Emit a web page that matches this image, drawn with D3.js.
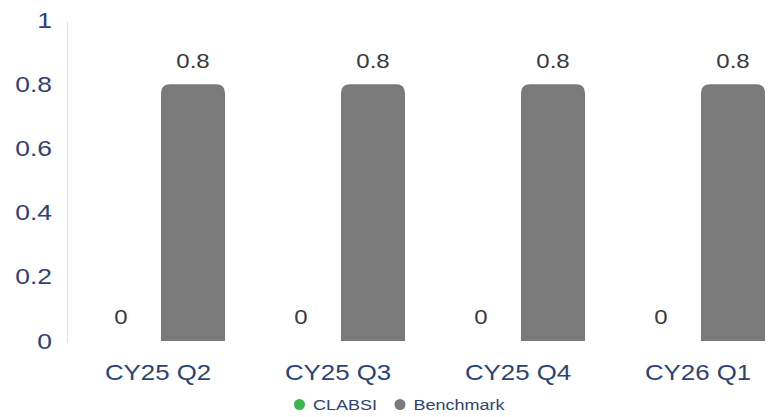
<!DOCTYPE html>
<html>
<head>
<meta charset="utf-8">
<script src="https://cdn.jsdelivr.net/npm/d3@7"></script>
<style>
  html, body { margin: 0; padding: 0; background: #fff; }
  svg { display: block; font-family: "Liberation Sans", Arial, sans-serif; }
</style>
</head>
<body>
<svg id="chart" width="768" height="417"></svg>
<script>
// Quarterly CLABSI rate vs. benchmark
const categories = ["CY25 Q2", "CY25 Q3", "CY25 Q4", "CY26 Q1"];
const seriesNames = ["CLABSI", "Benchmark"];
const clabsi = [0, 0, 0, 0];
const benchmark = [0.8, 0.8, 0.8, 0.8];
const yTicks = [0, 0.2, 0.4, 0.6, 0.8, 1];
const seriesColors = ["#3cb54a", "#7a7a7a"];

const svg = d3.select("#chart");
const axisColor = "#2d4373";
const WIDEN = 1.2; // text is drawn horizontally widened

// widen a text selection around its own x anchor
function widen(sel) {
  sel.attr("transform", function () {
    const X = +this.getAttribute("x") || 0;
    return `translate(${X},0) scale(${WIDEN},1) translate(${-X},0)`;
  });
}

const x = d3.scaleBand().domain(categories).range([68, 788]).paddingInner(0).paddingOuter(0);
const xSub = d3.scaleBand().domain(seriesNames).range([17, 161]).paddingInner(0.111).paddingOuter(0.0555);
const y = d3.scaleLinear().domain([0, 1]).range([341, 20]);

// Y axis: labels only, plus a thin vertical rule
const yAxis = d3.axisLeft(y).tickValues(yTicks).tickFormat(d3.format("~g")).tickSize(0).tickPadding(15);
const gy = svg.append("g").attr("transform", "translate(67,0)").call(yAxis);
gy.select(".domain").remove();
gy.selectAll("text")
  .attr("fill", axisColor)
  .style("font-size", "22px")
  .style("font-family", "'Liberation Sans', Arial, sans-serif")
  .call(widen);

svg.append("line")
  .attr("x1", 67.5).attr("x2", 67.5)
  .attr("y1", y(1) + 2).attr("y2", y(0) + 2)
  .attr("stroke", "#dde0e6").attr("stroke-width", 1);

// X axis labels
const xAxis = d3.axisBottom(x).tickSize(0).tickPadding(23.5);
const gx = svg.append("g").attr("transform", `translate(0,${y(0)})`).call(xAxis);
gx.select(".domain").remove();
gx.selectAll("text")
  .attr("fill", axisColor)
  .style("font-size", "21.5px")
  .style("font-family", "'Liberation Sans', Arial, sans-serif")
  .call(widen);

// Bars with rounded top corners
function topRounded(x0, y0, w, h, r) {
  r = Math.min(r, w / 2, h);
  if (h <= 0) return "";
  return `M${x0},${y0 + h}V${y0 + r}Q${x0},${y0} ${x0 + r},${y0}H${x0 + w - r}Q${x0 + w},${y0} ${x0 + w},${y0 + r}V${y0 + h}Z`;
}

const rows = categories.map((c, i) => ({ cat: c, values: [clabsi[i], benchmark[i]] }));
const groups = svg.selectAll("g.grp").data(rows).join("g")
  .attr("class", "grp")
  .attr("transform", d => `translate(${x(d.cat)},0)`);

const items = d => d.values.map((v, j) => ({ name: seriesNames[j], v, j }));

groups.selectAll("path.bar")
  .data(items)
  .join("path")
  .attr("class", "bar")
  .attr("fill", d => seriesColors[d.j])
  .attr("d", d => topRounded(xSub(d.name), y(d.v), xSub.bandwidth(), y(0) - y(d.v), 9));

groups.selectAll("text.val")
  .data(items)
  .join("text")
  .attr("class", "val")
  .attr("x", d => xSub(d.name) + xSub.bandwidth() / 2)
  .attr("y", d => y(d.v) - 16.5)
  .attr("text-anchor", "middle")
  .attr("fill", "#3a3a3a")
  .style("font-size", "20px")
  .text(d => d3.format("~g")(d.v))
  .call(widen);

// Legend
const legend = svg.append("g").attr("transform", "translate(0,404.5)");
const legendItems = [
  { name: seriesNames[0], color: seriesColors[0], x: 299.5 },
  { name: seriesNames[1], color: seriesColors[1], x: 400 }
];
legendItems.forEach(it => {
  legend.append("circle").attr("cx", it.x).attr("cy", 0).attr("r", 5.5).attr("fill", it.color);
  legend.append("text").attr("x", it.x + 13.5).attr("y", 5.5)
    .attr("fill", axisColor).style("font-size", "15px").text(it.name)
    .call(widen);
});
</script>
</body>
</html>
